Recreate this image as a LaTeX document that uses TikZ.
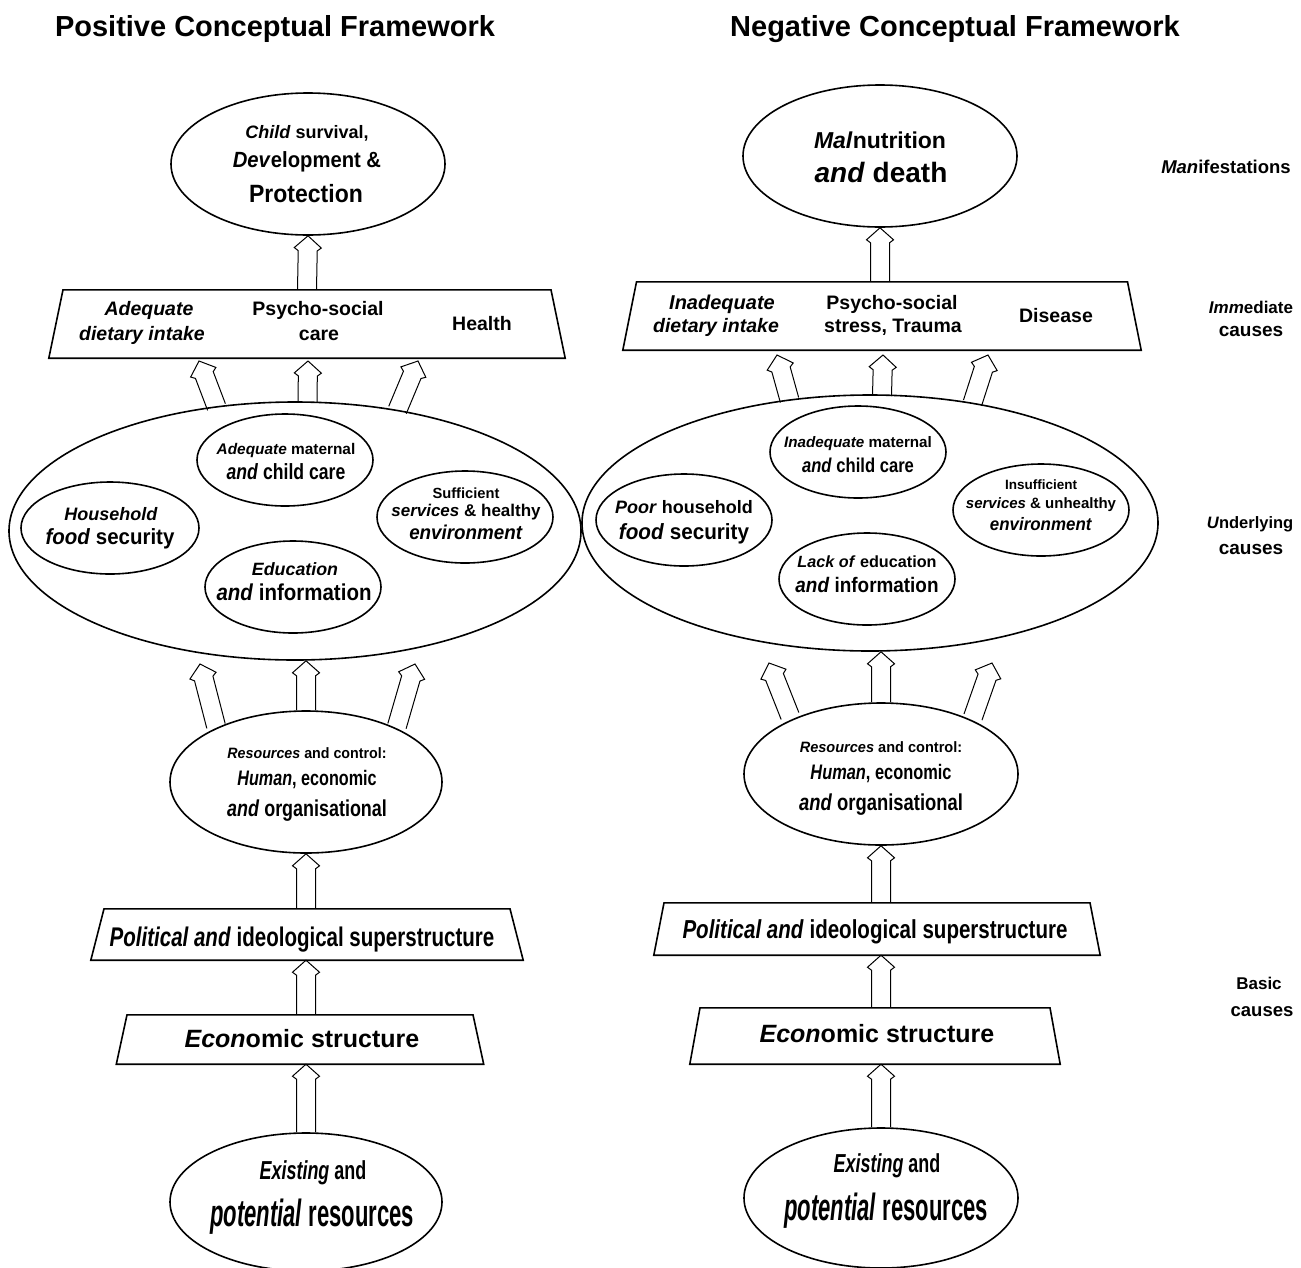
\documentclass[tikz,border=0pt]{standalone}
\usepackage{fontspec}
\setmainfont{Liberation Sans}
\usepackage{graphicx}
\usetikzlibrary{shapes.geometric,calc}

\tikzset{
  shapeline/.style={draw, line width=1.6pt},
  ell/.style={ellipse, shapeline, inner sep=0pt},
  txt/.style={anchor=base, inner sep=0pt, font=\bfseries},
  harrowline/.style={draw, line width=1pt, line join=miter},
}

% text line: name, x, y(mid), size, horizontal stretch, text
\newcommand\tl[6]{\node[txt] (#1) at (#2,{#3+0.36*#4}) {\scalebox{#5}[1]{\fontsize{#4pt}{#4pt}\selectfont #6}};}
% trapezoid box: name, cx, cy, top width, bottom width, height
\newcommand\trapbox[6]{%
  \node[inner sep=0pt, minimum width=#5pt, minimum height=#6pt] (#1) at (#2,#3) {};
  \draw[shapeline, line join=miter] ($(#1.north)+({-#4/2},0)$) -- ($(#1.north)+({#4/2},0)$)
     -- (#1.south east) -- (#1.south west) -- cycle;}
% hollow block arrow from #1 (tail) to #2 (tip)
\newcommand\harrow[2]{%
  \draw[harrowline] let \p1=#1, \p2=#2,
     \n1={atan2(\y2-\y1,\x2-\x1)}, \n2={veclen(\x2-\x1,\y2-\y1)} in
     {[shift={(\p1)}, rotate=\n1]
      (0pt,-9.5pt) -- ({\n2-15pt},-9.5pt) -- ({\n2-12pt},-13.5pt) -- (\n2,0pt)
      -- ({\n2-12pt},13.5pt) -- ({\n2-15pt},9.5pt) -- (0pt,9.5pt)};}

\begin{document}
\begin{tikzpicture}[x=1pt,y=-1pt]
\fill[white] (0,0) rectangle (1301,1267);
\useasboundingbox (0,0) rectangle (1301,1267);

% titles
\tl{titleL}{275}{26}{29}{1}{Positive Conceptual Framework}
\tl{titleR}{955}{26}{29}{1}{Negative Conceptual Framework}

% ================= LEFT =================
\node[ell, minimum width=274pt, minimum height=142pt] (topL) at (308,164) {};
\tl{topLa}{307}{132}{18}{1}{\textit{Child} survival,}
\tl{topLb}{307}{160}{22}{0.92}{\textit{Dev}elopment \&}
\tl{topLc}{306}{193}{25}{0.92}{Protection}

\trapbox{boxL}{307}{324}{488}{516}{68}
\tl{boxLa}{149}{308}{19.5}{1}{\textit{Adequate}}
\tl{boxLb}{142}{333}{19.5}{1}{\textit{dietary intake}}
\tl{boxLc}{318}{308}{19.5}{1}{Psycho-social}
\tl{boxLd}{319}{333}{19.5}{1}{care}
\tl{boxLe}{482}{323}{19.5}{1}{Health}

\node[ell, minimum width=572pt, minimum height=258pt] (bigL) at (295,531) {};
\node[ell, minimum width=176pt, minimum height=92pt] (eL1) at (285,460) {};
\tl{eL1a}{286}{449}{15.4}{1}{\textit{Adequate} maternal}
\tl{eL1b}{286}{472}{22}{0.8}{\textit{and} child care}
\node[ell, minimum width=178pt, minimum height=92pt] (eL2) at (110,528) {};
\tl{eL2a}{111}{514}{18}{1}{\textit{Household}}
\tl{eL2b}{110}{537}{22}{0.93}{\textit{food} security}
\node[ell, minimum width=176pt, minimum height=92pt] (eL3) at (465,517) {};
\tl{eL3a}{466}{493}{14.7}{1}{Sufficient}
\tl{eL3b}{466}{510}{17}{1}{\textit{services} \& healthy}
\tl{eL3c}{466}{532}{20}{0.94}{\textit{environment}}
\node[ell, minimum width=176pt, minimum height=92pt] (eL4) at (293,587) {};
\tl{eL4a}{295}{569}{17.8}{1}{\textit{Education}}
\tl{eL4b}{294}{592}{23}{0.89}{\textit{and} information}

\node[ell, minimum width=272pt, minimum height=142pt] (resL) at (306,782) {};
\tl{resLa}{307}{753}{15}{0.95}{\textit{Resources} and control:}
\tl{resLb}{307}{778}{21}{0.77}{\textit{Human}, economic}
\tl{resLc}{307}{808}{23}{0.78}{\textit{and} organisational}

\trapbox{polL}{307}{934.5}{406}{432}{51}
\tl{polLa}{302}{937}{27}{0.76}{\textit{Political and} ideological superstructure}

\trapbox{econL}{300}{1039.5}{346}{367}{49}
\tl{econLa}{302}{1038}{25}{1}{\textit{Econ}omic structure}

\node[ell, minimum width=272pt, minimum height=138pt] (exL) at (306,1202) {};
\tl{exLa}{313}{1170}{26}{0.69}{\textit{Existing} and}
\tl{exLb}{312}{1213}{38}{0.58}{\textit{potential} resources}

% arrows left
\coordinate (aL1) at (216.5,407);  \coordinate (tL1) at (199,361);
\coordinate (aL2) at (307.5,402);  \coordinate (tL2) at (308,361);
\coordinate (aL3) at (397.5,410);  \coordinate (tL3) at (418,361);
\coordinate (bL1) at (216,726);    \coordinate (uL1) at (200,664);
\coordinate (bL3) at (397,726);    \coordinate (uL3) at (415,664);
\harrow{(boxL.north)}{(topL.south)}
\harrow{(aL1)}{(tL1)}
\harrow{(aL2)}{(tL2)}
\harrow{(aL3)}{(tL3)}
\harrow{(bL1)}{(uL1)}
\harrow{(resL.north)}{(resL.north |- bigL.south)}
\harrow{(bL3)}{(uL3)}
\harrow{(polL.north -| resL.south)}{(resL.south)}
\harrow{(exL.north |- econL.north)}{(exL.north |- polL.south)}
\harrow{(exL.north)}{(exL.north |- econL.south)}

% ================= RIGHT =================
\node[ell, minimum width=274pt, minimum height=142pt] (topR) at (880,156) {};
\tl{topRa}{880}{140}{23}{1}{\textit{Mal}nutrition}
\tl{topRb}{881}{172}{28}{1}{\textit{and} death}

\trapbox{boxR}{882}{316}{491}{518}{68}
\tl{boxRa}{722}{302}{20}{1}{\textit{Inadequate}}
\tl{boxRb}{716}{325}{19.5}{1}{\textit{dietary intake}}
\tl{boxRc}{892}{302}{19.5}{1}{Psycho-social}
\tl{boxRd}{893}{325}{19.5}{1}{stress, Trauma}
\tl{boxRe}{1056}{315}{19.5}{1}{Disease}

\node[ell, minimum width=576pt, minimum height=256pt] (bigR) at (870,523) {};
\node[ell, minimum width=176pt, minimum height=92pt] (eR1) at (858,452) {};
\tl{eR1a}{858}{442}{15.2}{1}{\textit{Inadequate} maternal}
\tl{eR1b}{858}{465}{20}{0.83}{\textit{and} child care}
\node[ell, minimum width=176pt, minimum height=92pt] (eR2) at (684,520) {};
\tl{eR2a}{684}{507}{18}{1}{\textit{Poor} household}
\tl{eR2b}{684}{532}{22}{0.94}{\textit{food} security}
\node[ell, minimum width=176pt, minimum height=92pt] (eR3) at (1041,510) {};
\tl{eR3a}{1041}{485}{13.5}{1}{Insufficient}
\tl{eR3b}{1041}{503}{15}{1}{\textit{services} \& unhealthy}
\tl{eR3c}{1041}{524}{18}{0.94}{\textit{environment}}
\node[ell, minimum width=176pt, minimum height=92pt] (eR4) at (867,579) {};
\tl{eR4a}{867}{562}{16.2}{1}{\textit{Lack of} education}
\tl{eR4b}{867}{585}{21}{0.9}{\textit{and} information}

\node[ell, minimum width=274pt, minimum height=142pt] (resR) at (881,774) {};
\tl{resRa}{881}{747}{15}{0.97}{\textit{Resources} and control:}
\tl{resRb}{881}{772}{21}{0.78}{\textit{Human}, economic}
\tl{resRc}{881}{802}{23}{0.8}{\textit{and} organisational}

\trapbox{polR}{877}{929}{426}{446}{52}
\tl{polRa}{875}{929}{26}{0.79}{\textit{Political and} ideological superstructure}

\trapbox{econR}{875}{1036}{350}{370}{56}
\tl{econRa}{877}{1033}{25}{1}{\textit{Econ}omic structure}

\node[ell, minimum width=274pt, minimum height=140pt] (exR) at (881,1198) {};
\tl{exRa}{887}{1163}{26}{0.69}{\textit{Existing} and}
\tl{exRb}{886}{1207}{38}{0.58}{\textit{potential} resources}

% arrows right
\coordinate (aR1) at (789.5,400);  \coordinate (tR1) at (777,355);
\coordinate (aR2) at (882,396);    \coordinate (tR2) at (883,355);
\coordinate (aR3) at (972.5,403);  \coordinate (tR3) at (988,355);
\coordinate (bR1) at (790,716);    \coordinate (uR1) at (769,663);
\coordinate (bR3) at (973,717);    \coordinate (uR3) at (992,663);
\harrow{(boxR.north -| topR.south)}{(topR.south)}
\harrow{(aR1)}{(tR1)}
\harrow{(aR2)}{(tR2)}
\harrow{(aR3)}{(tR3)}
\harrow{(bR1)}{(uR1)}
\harrow{(resR.north)}{(resR.north |- bigR.south)}
\harrow{(bR3)}{(uR3)}
\harrow{(polR.north -| resR.south)}{(resR.south)}
\harrow{(exR.north |- econR.north)}{(exR.north |- polR.south)}
\harrow{(exR.north)}{(exR.north |- econR.south)}

% side labels
\tl{sideA}{1226}{167}{18.5}{1}{\textit{Man}ifestations}
\tl{sideB1}{1251}{307}{17}{1}{\textit{Imm}ediate}
\tl{sideB2}{1251}{330}{19}{1}{causes}
\tl{sideC1}{1250}{523}{16.5}{1}{\textit{U}nderlying}
\tl{sideC2}{1251}{548}{19}{1}{causes}
\tl{sideD1}{1259}{983}{17}{1}{Basic}
\tl{sideD2}{1262}{1010}{18.5}{1}{causes}
\end{tikzpicture}
\end{document}
